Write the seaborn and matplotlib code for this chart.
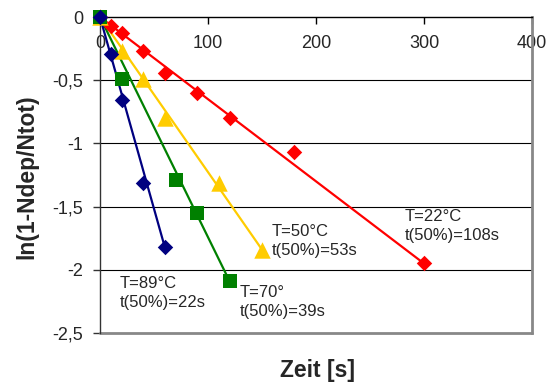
import numpy as np
import pandas as pd
import seaborn as sns
import matplotlib.pyplot as plt

# measured data, ln(1 - Ndep/Ntot) vs time [s]
t_22 = [0, 10, 20, 40, 60, 90, 120, 180, 300]
y_22 = [0, -0.07, -0.13, -0.27, -0.44, -0.60, -0.80, -1.07, -1.95]

t_50 = [0, 20, 40, 60, 110, 150]
y_50 = [0, -0.27, -0.49, -0.80, -1.31, -1.84]

t_70 = [0, 20, 70, 90, 120]
y_70 = [0, -0.49, -1.29, -1.55, -2.09]

t_89 = [0, 10, 20, 40, 60]
y_89 = [0, -0.29, -0.66, -1.31, -1.82]

y_ticks = [0, -0.5, -1, -1.5, -2, -2.5]
y_ticklabels = ["0", "-0,5", "-1", "-1,5", "-2", "-2,5"]
x_ticks = [0, 100, 200, 300, 400]

labels = {
    "22": "T=22°C\nt(50%)=108s",
    "50": "T=50°C\nt(50%)=53s",
    "70": "T=70°\nt(50%)=39s",
    "89": "T=89°C\nt(50%)=22s",
}


def main():
    sns.set_style("white")
    plt.rcParams['font.family'] = ['Liberation Sans', 'DejaVu Sans']

    fig = plt.figure(figsize=(5.53, 3.83), dpi=100)
    ax = fig.add_axes([0.1808, 0.1305, 0.7812, 0.8251])

    series = [
        (t_22, y_22, "#FF0000", "D", 62),
        (t_50, y_50, "#FFCC00", "^", 140),
        (t_70, y_70, "#008000", "s", 112),
        (t_89, y_89, "#000080", "D", 62),
    ]

    # trend lines: origin to last measured point
    for t, y, col, mk, sz in series:
        df = pd.DataFrame({"t": [t[0], t[-1]], "y": [y[0], y[-1]]})
        sns.lineplot(data=df, x="t", y="y", color=col, lw=1.6, ax=ax,
                     zorder=3, clip_on=False)

    for i, (t, y, col, mk, sz) in enumerate(series):
        df = pd.DataFrame({"t": t, "y": y})
        sns.scatterplot(data=df, x="t", y="y", color=col, marker=mk, s=sz,
                        linewidth=0, ax=ax, zorder=5 + i, clip_on=False)

    ax.set_xlim(0, 400)
    ax.set_ylim(-2.5, 0)

    # horizontal grid
    for g in [-0.5, -1, -1.5, -2]:
        ax.axhline(g, color="black", lw=0.8, zorder=1)

    # x axis crosses at y=0
    ax.spines['bottom'].set_position(('data', 0))
    ax.spines['bottom'].set_color("black")
    ax.spines['bottom'].set_linewidth(1.0)
    ax.spines['top'].set_visible(False)
    ax.spines['left'].set_color("#333333")
    ax.spines['left'].set_linewidth(1.0)
    ax.spines['right'].set_color("#888888")
    ax.spines['right'].set_linewidth(2.0)
    ax.axhline(-2.5, color="#888888", lw=2.0, zorder=2, clip_on=False)

    ax.set_xticks(x_ticks)
    ax.set_xticklabels([str(v) for v in x_ticks])
    ax.set_yticks(y_ticks)
    ax.set_yticklabels(y_ticklabels)
    ax.tick_params(axis='x', direction='out', length=5, width=1.0,
                   labelsize=13, pad=8, color="black", bottom=True)
    ax.tick_params(axis='y', direction='out', length=5, width=1.0,
                   labelsize=13, pad=7, color="#333333", left=True)

    ax.set_xlabel("")
    ax.set_ylabel("")
    fig.text(317 / 553, 1 - 370 / 383, "Zeit [s]", ha='center', va='center',
             fontsize=16.5, fontweight='bold')
    fig.text(27 / 553, 1 - 177 / 383, "ln(1-Ndep/Ntot)", ha='center',
             va='center', rotation=90, fontsize=16.5, fontweight='bold')

    txt = dict(fontsize=12, va='top', ha='left', linespacing=1.35, zorder=10)
    ax.text(282, -1.515, labels["22"], **txt)
    ax.text(159, -1.635, labels["50"], **txt)
    ax.text(129.6, -2.12, labels["70"], **txt)
    ax.text(18.5, -2.045, labels["89"], **txt)

    fig.savefig("out.png", dpi=100)


if __name__ == "__main__":
    main()
